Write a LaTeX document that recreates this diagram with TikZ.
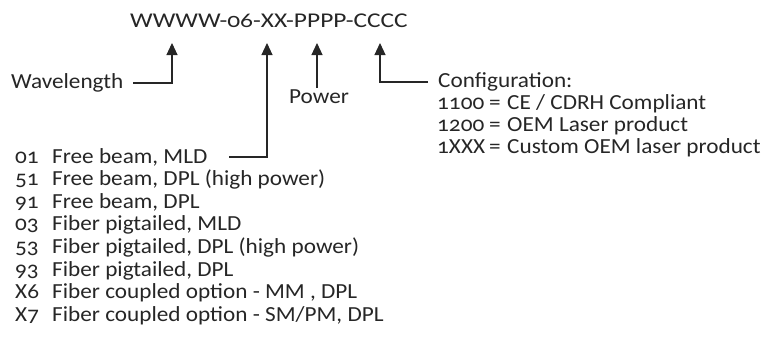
\documentclass[tikz,border=0pt]{standalone}
\usepackage{graphicx}
\usepackage{fontspec}
\setmainfont{Carlito}[Numbers=OldStyle, FakeStretch=1.08]
\usetikzlibrary{arrows.meta}

\tikzset{
  label/.style={inner sep=0pt, anchor=base west, text=black!85,
    font=\fontsize{21.5}{25}\selectfont},
  callout/.style={draw=black!85, line width=1.1pt,
    -{Triangle[length=12pt,width=11pt]}},
}

\begin{document}
\begin{tikzpicture}[x=1pt,y=-1pt]
            \useasboundingbox (0,0) rectangle (783,356);

            % part number and the points it is read at
            \node[label, font=\fontsize{21}{25}\selectfont] (code)
              at (130,27) {\scalebox{1.12}[1]{WWWW-06-XX-PPPP-CCCC}};
            \coordinate (tipW) at (172,43);
            \coordinate (tipX) at (267,43);
            \coordinate (tipP) at (317,43);
            \coordinate (tipC) at (380,43);

            \node[label] (wavelength) at (11,88) {Wavelength};
            \node[label] (power) at (289,103) {Power};
            \node[label] (config) at (438,87) {Configuration:};

            \coordinate (bendW) at (133,83);
            \coordinate (bendX) at (229,157);
            \coordinate (bendC) at (428,82);
            \coordinate (footP) at (317,88);

            \draw[callout] (bendW) -| (tipW);
            \draw[callout] (bendX) -| (tipX);
            \draw[callout] (footP) -- (tipP);
            \draw[callout] (bendC) -| (tipC);

            % XX options
            \foreach \num/\desc [count=\i] in {01/{Free beam, MLD},
                51/{Free beam, DPL (high power)}, 91/{Free beam, DPL},
                03/{Fiber pigtailed, MLD},
                53/{Fiber pigtailed, DPL (high power)},
                93/{Fiber pigtailed, DPL},
                X6/{Fiber coupled option - MM , DPL},
                X7/{Fiber coupled option - SM/PM, DPL}} {
              \node[label] (optnum\i) at (15,140.4+22.6*\i) {\num};
              \node[label] (opt\i) at (52,140.4+22.6*\i) {\desc};
            }

            % CCCC configurations
            \foreach \num/\desc [count=\i] in {1100/{CE / CDRH Compliant},
                1200/{OEM Laser product}, 1XXX/{Custom OEM laser product}} {
              \node[label] (cfgnum\i) at (437,87+22*\i) {\num};
              \node[label] (cfgeq\i) at (489,87+22*\i) {=};
              \node[label] (cfg\i) at (507,87+22*\i) {\desc};
            }
        \end{tikzpicture}
\end{document}
